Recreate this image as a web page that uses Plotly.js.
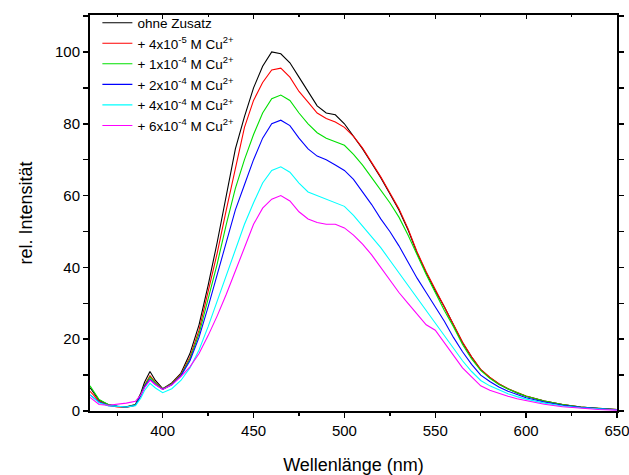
<!DOCTYPE html>
<html>
<head>
<meta charset="utf-8">
<script src="https://cdn.plot.ly/plotly-3.0.1.min.js"></script>
<style>html,body{margin:0;padding:0;background:#fff;}#chart{width:629px;height:475px;}</style>
</head>
<body>
<div id="chart"></div>
<script>
var wavelength = [360,365,370,375,380,385,388,390,393,396,400,405,410,415,420,425,430,435,440,445,450,455,460,465,470,475,480,485,490,495,500,505,510,515,520,525,530,535,540,545,550,555,560,565,570,575,580,585,590,595,600,610,620,630,640,650];

var ohneZusatz = [6.5,3.0,1.8,1.3,1.2,1.8,5.0,8.0,11.0,8.5,6.2,7.8,10.5,16,24,35,47,60,73,82,90,96,100,99.5,97,93,89,85,83,82.5,80,76.5,73,69,65,60.5,56,50.5,44,38.5,33.5,29,24,19,15,11.5,9.3,7.5,6.2,5,4.1,2.8,1.8,1.1,0.7,0.4];
var cu4e5 = [5.5,2.8,1.6,1.1,1.0,1.6,4.5,7.2,9.8,8.0,6.1,7.6,10.2,15,22.5,33,44,56,68,79,86.5,91.5,95,95.5,93,89,86,83,81.5,80.5,79,76.5,73.2,69.3,65.2,60.8,56.3,50.8,44.3,38.8,33.8,29.2,24.2,19.2,15.1,11.6,9.4,7.6,6.2,5.1,4.2,2.8,1.8,1.1,0.7,0.4];
var cu1e4 = [7.0,3.2,1.8,1.3,1.1,1.7,4.6,7.0,9.4,7.8,6.1,7.5,10,14.5,21.5,31,41,52,62,70,77,83,87,88,86.5,83,80,77.5,76,75,74,71.5,68.5,65,61.5,58,54,49,43.5,38,33,28,23.5,18.5,14.5,11.3,9.1,7.4,6.1,5,4.1,2.8,1.8,1.1,0.7,0.4];
var cu2e4 = [4.5,2.5,1.5,1.2,1.1,1.6,4.3,6.8,8.8,7.4,6.0,7.3,9.8,14,20.5,29,38,47,56,63,70,76,80,81,79.5,76,73,71,70,68.5,67,64.5,61,57.5,53.5,50,46,41.5,37,33,29,25,20.5,16.5,13,10,8.2,6.7,5.5,4.5,3.7,2.5,1.6,1.0,0.6,0.35];
var cu4e4 = [4.5,2.3,1.5,1.2,1.1,1.5,3.6,5.7,7.7,6.4,5.1,6.2,8.5,12,17,23.5,30.5,38,45,52,58,63.5,67,68,66.5,63.5,61,60,59,58,57,54.5,51.5,48.5,45.5,42,38.5,35,31.5,28,24.5,21,17.5,14,11,8.5,7,5.8,4.8,4,3.3,2.2,1.4,0.9,0.5,0.3];
var cu6e4 = [3.8,1.8,1.6,1.8,2.2,2.7,4.5,6.5,8.6,7.3,6.0,7.3,9.6,12.3,16,21,26.5,32.5,39,45.5,52,56.5,59,60,58.5,55.5,53.5,52.5,52,52,51,49,46.5,43.5,40,36.5,33,30,27,24,22.5,19,15.5,12,9.5,7,5.8,4.9,4.1,3.4,2.9,1.9,1.2,0.7,0.4,0.25];

var seriesNames = ["ohne Zusatz","+ 4x10<sup>-5</sup> M Cu<sup>2+</sup>","+ 1x10<sup>-4</sup> M Cu<sup>2+</sup>","+ 2x10<sup>-4</sup> M Cu<sup>2+</sup>","+ 4x10<sup>-4</sup> M Cu<sup>2+</sup>","+ 6x10<sup>-4</sup> M Cu<sup>2+</sup>"];
var seriesValues = [ohneZusatz, cu4e5, cu1e4, cu2e4, cu4e4, cu6e4];
var seriesColors = ["#000000","#ff0000","#00e000","#0000ff","#00ffff","#ff00ff"];

var traces = seriesValues.map(function(v,i){
  return {x: wavelength, y: v, type:'scatter', mode:'lines', name: seriesNames[i],
          line:{color: seriesColors[i], width:1.1}};
});
// empty helper trace so the top axis (inward ticks) is drawn
traces.push({x:[], y:[], xaxis:'x2', yaxis:'y', type:'scatter', mode:'lines', showlegend:false, hoverinfo:'skip'});

var font = "Arial, 'Liberation Sans', sans-serif";
var layout = {
  width:629, height:475,
  margin:{l:90, r:12, t:5, b:64},
  paper_bgcolor:'#fff', plot_bgcolor:'#fff',
  font:{family:font, color:'#000', size:14},
  showlegend:true,
  legend:{x:0.014, y:0.994, xanchor:'left', yanchor:'top', bgcolor:'rgba(0,0,0,0)', borderwidth:0,
          font:{family:font, size:13.5, color:'#000'}},
  xaxis:{range:[360,650], showline:true, linecolor:'#000', linewidth:2, mirror:true,
         ticks:'outside', ticklen:5, tickwidth:1.5, tickcolor:'#000', dtick:50, tick0:400,
         minor:{dtick:25, ticks:'outside', ticklen:3, tickcolor:'#000'},
         ticklabeloverflow:'allow',
         showgrid:false, zeroline:false, tickfont:{size:15},
         title:{text:'Wellenlänge (nm)', font:{size:18}, standoff:22}},
  xaxis2:{range:[360,650], overlaying:'x', side:'top', anchor:'y', showline:false,
          ticks:'inside', ticklen:4, tickwidth:1.2, tickcolor:'#000', dtick:50, tick0:400,
          minor:{dtick:25, ticks:'inside', ticklen:2, tickcolor:'#000'},
          showticklabels:false, showgrid:false, zeroline:false},
  yaxis:{range:[0,110.3], domain:[0, 0.9754], showline:true, linecolor:'#000', linewidth:2, mirror:'allticks',
         ticks:'outside', ticklen:5, tickwidth:1.5, tickcolor:'#000', dtick:20, tick0:0,
         minor:{dtick:10, ticks:'outside', ticklen:3, tickcolor:'#000'},
         showgrid:false, zeroline:false, tickfont:{size:15},
         title:{text:'rel. Intensität', font:{size:18}, standoff:18}}
};
Plotly.newPlot('chart', traces, layout, {displayModeBar:false, staticPlot:true});
</script>
</body>
</html>
